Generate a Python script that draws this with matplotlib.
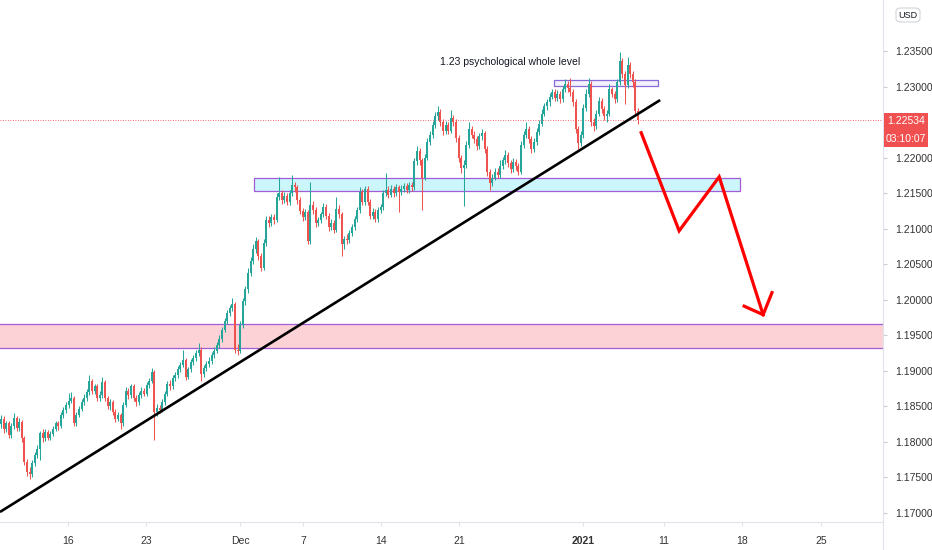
import matplotlib
matplotlib.use('Agg')
import matplotlib.pyplot as plt
from matplotlib.patches import Rectangle, FancyBboxPatch
from matplotlib.lines import Line2D
import numpy as np

FONT = ['Liberation Sans Narrow', 'Liberation Sans', 'DejaVu Sans']
plt.rcParams['font.family'] = FONT

# ---------------- data (prices in 1e-4 units) ----------------
first_open = 11825
close_pips = [
    11832, 11818, 11826, 11810, 11822, 11834, 11820, 11828, 11805, 11772,
    11758, 11755, 11770, 11782, 11790, 11812, 11805, 11814, 11806, 11811,
    11818, 11826, 11822, 11838, 11845, 11852, 11858, 11862, 11826, 11838,
    11846, 11856, 11862, 11870, 11885, 11872, 11878, 11862, 11866, 11884,
    11862, 11850, 11856, 11842, 11832, 11838, 11826, 11852, 11872, 11866,
    11878, 11862, 11856, 11866, 11872, 11868, 11880, 11886, 11898, 11842,
    11848, 11845, 11856, 11868, 11882, 11878, 11890, 11894, 11903, 11908,
    11915, 11892, 11902, 11912, 11918, 11925, 11930, 11895, 11904, 11910,
    11914, 11922, 11928, 11936, 11945, 11958, 11970, 11982, 11988, 11994,
    11930, 11928, 11965, 11998, 12015, 12038, 12055, 12072, 12082, 12062,
    12045, 12080, 12112, 12108, 12116, 12112, 12145, 12150, 12140, 12146,
    12138, 12150, 12162, 12158, 12140, 12125, 12116, 12124, 12082, 12134,
    12126, 12108, 12112, 12120, 12131, 12118, 12102, 12108, 12098, 12128,
    12120, 12078, 12086, 12084, 12094, 12102, 12114, 12126, 12152, 12138,
    12156, 12138, 12118, 12124, 12114, 12126, 12130, 12150, 12155, 12148,
    12156, 12150, 12158, 12152, 12156, 12160, 12154, 12162, 12158, 12195,
    12210, 12196, 12172, 12200, 12222, 12232, 12246, 12258, 12264, 12250,
    12238, 12246, 12238, 12256, 12250, 12228, 12200, 12186, 12190, 12218,
    12240, 12232, 12226, 12216, 12230, 12234, 12212, 12180, 12164, 12172,
    12180, 12176, 12188, 12196, 12204, 12192, 12184, 12194, 12188, 12180,
    12218, 12232, 12240, 12226, 12212, 12222, 12236, 12248, 12262, 12272,
    12278, 12286, 12292, 12284, 12290, 12282, 12296, 12304, 12298, 12292,
    12278, 12240, 12220, 12232, 12270, 12290, 12304, 12250, 12244, 12262,
    12280, 12268, 12258, 12262, 12296, 12290, 12282, 12306, 12336, 12318,
    12302, 12330, 12318, 12306, 12266, 12253.4,
]
high_pips = [
    11838, 11836, 11830, 11829, 11827, 11840, 11837, 11833, 11831, 11808,
    11776, 11764, 11774, 11786, 11795, 11815, 11818, 11818, 11817, 11815,
    11822, 11830, 11830, 11842, 11849, 11856, 11869, 11870, 11865, 11842,
    11850, 11860, 11867, 11875, 11894, 11889, 11882, 11881, 11871, 11892,
    11887, 11865, 11860, 11859, 11846, 11842, 11841, 11856, 11877, 11876,
    11882, 11881, 11866, 11870, 11877, 11876, 11884, 11890, 11904, 11901,
    11853, 11852, 11860, 11872, 11886, 11887, 11894, 11899, 11907, 11913,
    11929, 11918, 11906, 11916, 11922, 11930, 11939, 11933, 11908, 11914,
    11919, 11926, 11933, 11940, 11950, 11962, 11975, 11986, 11993, 12002,
    11997, 11938, 11970, 12003, 12020, 12044, 12060, 12078, 12088, 12086,
    12066, 12085, 12118, 12118, 12121, 12120, 12150, 12173, 12155, 12152,
    12150, 12155, 12176, 12166, 12162, 12144, 12129, 12128, 12127, 12166,
    12139, 12130, 12117, 12124, 12136, 12135, 12122, 12113, 12112, 12144,
    12133, 12124, 12090, 12092, 12098, 12106, 12118, 12131, 12158, 12156,
    12160, 12160, 12142, 12129, 12128, 12130, 12135, 12154, 12178, 12160,
    12161, 12160, 12163, 12162, 12161, 12165, 12164, 12166, 12166, 12200,
    12216, 12214, 12199, 12205, 12228, 12237, 12252, 12264, 12272, 12268,
    12254, 12252, 12250, 12267, 12260, 12254, 12232, 12204, 12196, 12223,
    12250, 12245, 12237, 12230, 12235, 12240, 12238, 12216, 12184, 12177,
    12186, 12185, 12197, 12201, 12211, 12208, 12196, 12199, 12198, 12192,
    12223, 12238, 12250, 12244, 12230, 12227, 12241, 12253, 12268, 12277,
    12283, 12291, 12297, 12296, 12295, 12294, 12301, 12310, 12308, 12312,
    12296, 12282, 12244, 12237, 12275, 12296, 12312, 12308, 12256, 12267,
    12286, 12284, 12272, 12267, 12304, 12300, 12294, 12311, 12348, 12340,
    12322, 12342, 12334, 12322, 12310, 12270,
]
low_pips = [
    11819, 11812, 11814, 11805, 11806, 11818, 11815, 11816, 11800, 11768,
    11752, 11748, 11750, 11766, 11778, 11775, 11800, 11801, 11802, 11803,
    11808, 11815, 11817, 11820, 11834, 11841, 11848, 11855, 11822, 11823,
    11835, 11843, 11852, 11858, 11866, 11868, 11868, 11858, 11858, 11862,
    11857, 11846, 11845, 11838, 11828, 11829, 11818, 11823, 11849, 11861,
    11862, 11858, 11851, 11852, 11862, 11864, 11865, 11876, 11883, 11802,
    11836, 11840, 11842, 11852, 11864, 11873, 11875, 11886, 11890, 11899,
    11905, 11887, 11888, 11898, 11908, 11914, 11921, 11886, 11891, 11900,
    11906, 11910, 11918, 11925, 11932, 11941, 11954, 11966, 11977, 11984,
    11925, 11922, 11925, 11960, 11992, 12010, 12033, 12050, 12066, 12056,
    12040, 12042, 12076, 12102, 12104, 12107, 12109, 12140, 12135, 12136,
    12133, 12134, 12146, 12152, 12135, 12120, 12111, 12112, 12078, 12079,
    12120, 12103, 12104, 12108, 12116, 12113, 12097, 12098, 12094, 12095,
    12115, 12062, 12072, 12079, 12080, 12090, 12098, 12110, 12122, 12133,
    12134, 12133, 12113, 12114, 12109, 12110, 12122, 12127, 12146, 12143,
    12144, 12145, 12146, 12124, 12148, 12151, 12150, 12150, 12153, 12154,
    12190, 12190, 12126, 12168, 12196, 12218, 12228, 12242, 12253, 12245,
    12232, 12233, 12233, 12234, 12245, 12222, 12194, 12178, 12132, 12186,
    12214, 12227, 12220, 12211, 12212, 12225, 12207, 12174, 12154, 12160,
    12168, 12171, 12172, 12184, 12191, 12187, 12179, 12180, 12183, 12175,
    12177, 12214, 12228, 12221, 12207, 12208, 12218, 12232, 12244, 12258,
    12267, 12273, 12282, 12279, 12280, 12277, 12278, 12292, 12293, 12287,
    12273, 12235, 12212, 12216, 12228, 12265, 12286, 12245, 12238, 12240,
    12258, 12263, 12253, 12250, 12258, 12285, 12277, 12278, 12302, 12312,
    12276, 12298, 12312, 12300, 12260, 12248,
]

x_tick_pos = [25.8, 55.8, 91.9, 116.2, 146.2, 176.2, 223.8, 255.0, 285.0, 315.4]
x_tick_labels = ['16', '23', 'Dec', '7', '14', '21', '2021', '11', '18', '25']
y_tick_vals = [1.170, 1.175, 1.180, 1.185, 1.190, 1.195, 1.200, 1.205,
               1.210, 1.215, 1.220, 1.225, 1.230, 1.235]
last_price = 1.22534
countdown = '03:10:07'
currency = 'USD'
note_text = '1.23 psychological whole level'
note_anchor = (168.8, 1.23345)

pink_zone = (1.1932, 1.1966)
blue_zone = (97.3, 284.2, 1.2153, 1.2171)
top_zone = (212.7, 252.7, 1.2301, 1.2309)
trend_x = [-0.4, 253.5]
trend_y = [1.17014, 1.2281]
arrow_x = [246.2, 260.8, 276.2, 293.1]
arrow_y = [1.2235, 1.2097, 1.2173, 1.1979]
head_x = [285.8, 293.1, 296.5]
head_y = [1.1991, 1.1979, 1.2010]

# ---------------- figure ----------------
W, H = 932, 550
fig = plt.figure(figsize=(W / 100, H / 100), dpi=100)
fig.patch.set_facecolor('white')
ax = fig.add_axes([0, 28 / H, 883 / W, 522 / H])
ax.set_facecolor('white')

closes = np.array(close_pips) / 1e4
highs = np.array(high_pips) / 1e4
lows = np.array(low_pips) / 1e4
opens = np.concatenate([[first_open / 1e4], closes[:-1]])
x = np.arange(len(closes))

UP, DN = '#26a69a', '#ef5350'
cols = [UP if c >= o else DN for o, c in zip(opens, closes)]
body_lo = np.minimum(opens, closes)
body_h = np.maximum(np.abs(closes - opens), 0.00008)

ax.set_xlim(-0.385, 339.2)
ax.set_ylim(1.16873, 1.24218)

# zones
ax.axhspan(pink_zone[0], pink_zone[1], facecolor=(0.95, 0.21, 0.27, 0.22),
           edgecolor='none', zorder=1)
for yv in pink_zone:
    ax.axhline(yv, color='#a35bd6', lw=0.9, zorder=1.1)
ax.add_patch(Rectangle((blue_zone[0], blue_zone[2]), blue_zone[1] - blue_zone[0],
                       blue_zone[3] - blue_zone[2], facecolor=(0.55, 0.93, 0.97, 0.45),
                       edgecolor='#a35bd6', lw=0.9, zorder=1))
ax.add_patch(Rectangle((top_zone[0], top_zone[2]), top_zone[1] - top_zone[0],
                       top_zone[3] - top_zone[2], facecolor=(0.80, 0.80, 0.97, 0.25),
                       edgecolor='#8a6ad8', lw=0.9, zorder=1))

# candles
ax.vlines(x, lows, highs, colors=cols, lw=0.75, zorder=2)
ax.bar(x, body_h, bottom=body_lo, width=0.8, color=cols, linewidth=0, zorder=2.1)

# current price line
ax.axhline(last_price, color='#f23645', lw=0.6, linestyle=(0, (1, 2)), zorder=1.5)

# trend line and arrow
ax.plot(trend_x, trend_y, color='black', lw=1.9, solid_capstyle='butt', zorder=3)
ax.plot(arrow_x, arrow_y, color='#ff0000', lw=2.3, solid_joinstyle='miter', zorder=4)
ax.plot(head_x, head_y, color='#ff0000', lw=2.3, solid_joinstyle='miter', zorder=4)

ax.text(note_anchor[0], note_anchor[1], note_text, fontsize=7.5, color='#131722',
        ha='left', va='center', zorder=5)

# axes styling
for s in ['top', 'left']:
    ax.spines[s].set_visible(False)
ax.spines['right'].set_color('#e0e3eb')
ax.spines['bottom'].set_color('#e0e3eb')
ax.yaxis.set_ticks_position('right')
ax.set_yticks(y_tick_vals)
# the 1.22500 label sits under the live price marker, as in the reference
ax.set_yticklabels(['' if abs(v - 1.225) < 1e-9 else f'{v:.5f}' for v in y_tick_vals])
ax.tick_params(axis='y', length=3, width=0.8, color='#c8cbd3', pad=6,
               labelsize=7.5, labelcolor='#333333')
ax.set_xticks(x_tick_pos)
ax.set_xticklabels(x_tick_labels)
ax.tick_params(axis='x', length=3, width=0.8, color='#e0e3eb', pad=7,
               labelsize=7.5, labelcolor='#333333')
for lbl in ax.get_xticklabels():
    if lbl.get_text() == '2021':
        lbl.set_fontweight('bold')

# right scale separator extended to bottom
fig.add_artist(Line2D([883 / W, 883 / W], [0, 28 / H], color='#e0e3eb', lw=0.8,
                      transform=fig.transFigure))

# price label boxes
fig.add_artist(Rectangle((884 / W, (H - 130) / H), 44 / W, 17 / H,
                         facecolor='#f0504f', edgecolor='none', transform=fig.transFigure,
                         zorder=5))
fig.add_artist(Rectangle((884 / W, (H - 147) / H), 44 / W, 17 / H,
                         facecolor='#f0504f', edgecolor='none', transform=fig.transFigure,
                         zorder=5))
fig.text(906 / W, (H - 121.5) / H, f'{last_price:.5f}', color='white', fontsize=7.5,
         ha='center', va='center', zorder=6)
fig.text(906 / W, (H - 138.5) / H, countdown, color='white', fontsize=7.5,
         ha='center', va='center', zorder=6)

# currency button
fig.add_artist(FancyBboxPatch((896 / W, (H - 22) / H), 24 / W, 14 / H,
                              boxstyle='round,pad=0,rounding_size=0.006',
                              facecolor='white', edgecolor='#d1d4dc', lw=0.8,
                              transform=fig.transFigure, zorder=5))
fig.text(908 / W, (H - 15) / H, currency, color='#131722', fontsize=6.5,
         ha='center', va='center', zorder=6)

fig.savefig('out.png', dpi=100, facecolor='white')
